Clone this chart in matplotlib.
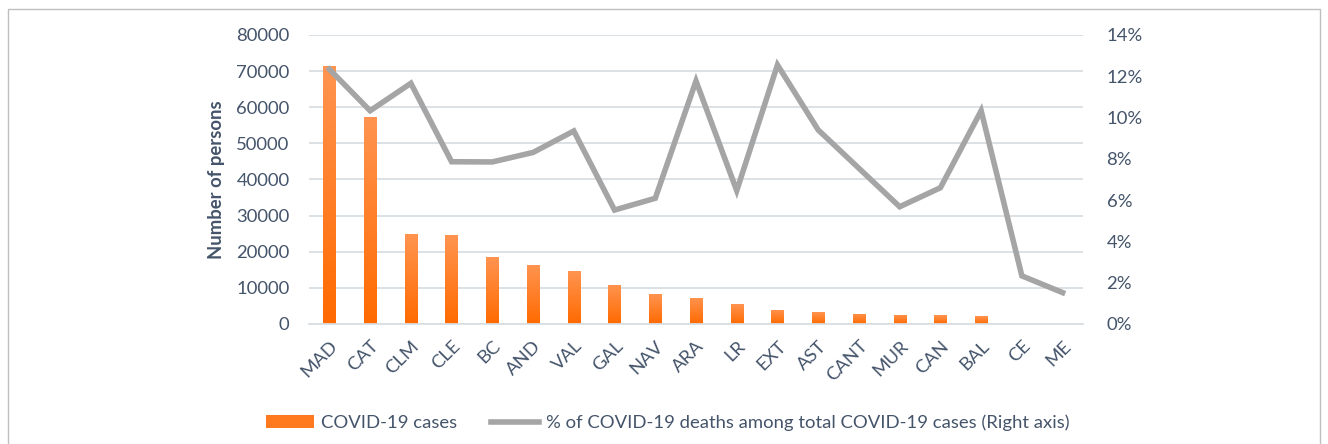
import numpy as np
import matplotlib
matplotlib.use("Agg")
from matplotlib import pyplot as plt
from matplotlib.patches import Rectangle, Patch
from matplotlib.lines import Line2D

regions = ['MAD', 'CAT', 'CLM', 'CLE', 'BC', 'AND', 'VAL', 'GAL', 'NAV', 'ARA',
           'LR', 'EXT', 'AST', 'CANT', 'MUR', 'CAN', 'BAL', 'CE', 'ME']
cases = [71400, 57300, 24800, 24500, 18500, 16200, 14600, 10900, 8300, 7200,
         5500, 4000, 3300, 2900, 2600, 2400, 2100, 100, 100]
death_pct = [12.34, 10.33, 11.66, 7.86, 7.85, 8.31, 9.35, 5.52, 6.09, 11.77,
             6.46, 12.55, 9.40, 7.54, 5.68, 6.60, 10.33, 2.33, 1.52]

txt = '#44546A'
plt.rcParams['font.family'] = ['Lato', 'DejaVu Sans']
fs = 13.3

fig = plt.figure(figsize=(13.28, 4.44), dpi=100)
ax = fig.add_axes([0.2327, 0.2703, 0.5828, 0.6509])
ax2 = ax.twinx()

xs = np.arange(len(regions))
bars = ax.bar(xs, cases, width=0.3, color='#FF7A1F', zorder=2)

# vertical gradient inside each bar
grad = np.linspace(0, 1, 256).reshape(-1, 1)
cmap = matplotlib.colors.LinearSegmentedColormap.from_list('o', ['#FF6A00', '#FF9450'])
for b in bars:
    x0, w, h = b.get_x(), b.get_width(), b.get_height()
    if h <= 0:
        continue
    im = ax.imshow(grad, extent=[x0, x0 + w, 0, h], origin='lower', cmap=cmap,
                   aspect='auto', zorder=2.1)
    im.set_clip_path(b)

ax.set_xlim(-0.5, len(regions) - 0.5)
ax.set_ylim(0, 80000)
ax.set_yticks(range(0, 80001, 10000))
ax.yaxis.grid(True, color='#D9DEE3', lw=1.3, zorder=0)
ax.set_axisbelow(True)
for s in ax.spines.values():
    s.set_visible(False)
ax.spines['bottom'].set_visible(True)
ax.spines['bottom'].set_color('#D9DEE3')
ax.spines['bottom'].set_linewidth(1.3)
ax.tick_params(axis='both', length=0, labelsize=fs, colors=txt)
ax.tick_params(axis='y', pad=14)
ax.set_xticks(xs)
ax.set_xticklabels(regions, rotation=45, ha='right', rotation_mode='anchor')
ax.tick_params(axis='x', pad=10)
ax.set_ylabel('Number of persons', fontsize=fs, fontweight='bold', color=txt, labelpad=8)

ax2.plot(xs, death_pct, color='#A5A5A5', lw=4, solid_joinstyle='miter', zorder=3)
ax2.set_ylim(0, 14)
ax2.set_yticks(range(0, 15, 2))
ax2.set_yticklabels([f'{v}%' for v in range(0, 15, 2)])
ax2.tick_params(axis='y', length=0, labelsize=fs, colors=txt, pad=17)
for s in ax2.spines.values():
    s.set_visible(False)

handles = [Patch(facecolor='#FF7A1F', edgecolor='none'),
           Line2D([0], [0], color='#A5A5A5', lw=4)]
labels = ['COVID-19 cases', '% of COVID-19 deaths among total COVID-19 cases (Right axis)']
fig.legend(handles, labels, loc='center', bbox_to_anchor=(0.503, 0.048), ncol=2,
           frameon=False, fontsize=fs, labelcolor=txt, columnspacing=1.8,
           handlelength=2.6, handletextpad=0.4)

fig.patches.append(Rectangle((0.006, -0.05), 0.988, 1.03, transform=fig.transFigure,
                             fill=False, edgecolor='#BFBFBF', lw=1))

fig.savefig('out.png', dpi=100)
